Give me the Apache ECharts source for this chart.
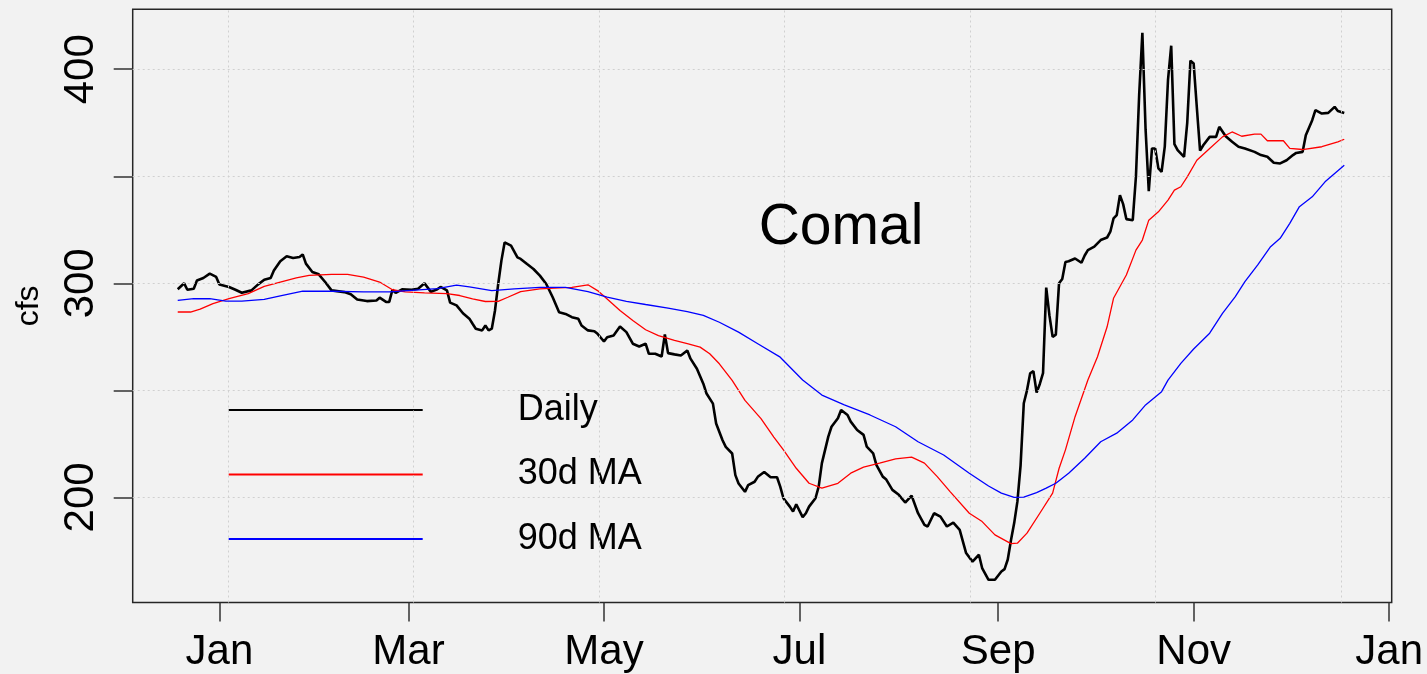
<!DOCTYPE html>
<html><head><meta charset="utf-8">
<script src="https://cdn.jsdelivr.net/npm/echarts@6/dist/echarts.min.js"></script>
<style>html,body{margin:0;padding:0;background:#F2F2F2;} #c{width:1427px;height:674px;}</style>
</head><body><div id="c"></div>
<script>
// Day offsets are counted from baseDate (2018-01-01); negative = December 2017.
const baseDate = '2018-01-01';
const seriesNames = ['Daily', '30d MA', '90d MA'];
const chartTitle = 'Comal';
const yName = 'cfs';

const dailyDay = [-13,-11,-10,-8,-7,-5,-3,-1,0,3,5,7,10,12,14,16,17,19,21,23,25,26,27,29,31,33,35,39,41,43,46,49,50,52,53,54,55,57,60,62,64,66,68,69,71,72,74,76,78,79,80,82,83,84,85,86,87,88,89,91,93,94,96,98,100,102,104,106,108,110,112,113,115,117,118,120,121,123,125,127,129,131,133,134,136,138,139,140,142,144,146,147,149,151,152,154,155,157,158,160,161,162,164,165,167,168,170,172,174,175,176,178,179,180,182,183,184,186,187,188,190,191,193,194,196,197,199,201,202,204,205,207,208,210,212,214,216,218,220,221,223,225,227,229,231,233,235,237,238,240,242,244,245,246,247,248,249,250,251,252,253,254,255,256,257,258,259,260,261,262,263,264,265,267,269,270,271,273,275,277,278,279,280,281,282,283,285,286,287,288,289,290,291,292,293,294,295,296,297,298,299,301,302,303,304,305,306,307,309,311,312,314,316,318,320,323,325,327,329,331,333,335,336,338,339,341,342,344,346,348,349,351];
const dailyCfs = [297.2,300,297,297.5,301.3,302.5,304.5,303,299.4,298.3,297,295.6,296.7,299.4,301.7,302.5,306,310.3,312.6,311.8,312.3,313.5,309.2,305.3,304.2,300.6,296.7,295.9,294.9,292.4,291.7,292,293.3,291.3,291.3,297,295.5,297.2,297,297.5,300,296,297.2,298.3,296.7,291,289.7,286,283.5,281.1,278.8,278,280.3,278,278.8,287.3,299.7,310.6,319.1,317.6,312.1,311.4,309,306.7,303.6,299.7,293.5,286.5,285.7,284.2,283.4,280.3,278,277.6,276.4,272.8,274.8,275.6,279.8,277.2,271.8,270.5,271.8,267.1,267.1,265.8,276.1,267.4,266.8,266.3,268.6,264.8,260.1,253.1,248.5,243.8,234.5,226.7,223.6,220.5,210.4,206.5,202.6,205.7,207.3,209.6,211.9,209.4,209.4,205,199.6,195.7,193.4,196.8,190.8,192.6,195.7,199.6,205,216,228.4,233,237,240.8,238.5,235.4,231.5,229.2,223.7,220.6,215.2,209.7,208.5,203.5,201.2,197.6,200.8,192.6,187.2,186.4,192.6,191,186.4,188.2,184.8,174,170,173.2,167,161.5,161.5,165.4,166.5,171,180,188,198,215,244,250,258,259,249,253,258,298,285,275,276,300,302,310,310.3,311.6,309.6,313,315.5,317.1,320.2,321.4,324.1,330.3,331.9,341.2,337,330,329.5,350,388,417,372,343,363,363,353.7,352.1,364,395,411,365,362.2,359.1,375,404,402.7,382,362,364.5,368.4,368.4,373.1,368.7,366.1,363.8,363,361.4,359.9,359.1,356.3,356,357.5,359.9,360.9,361.4,369.2,376.2,380.9,379.3,379.6,382.4,380.5,379.6];

const ma30Day = [-13,-9,-6,-2,3,9,14,19,24,28,35,40,45,50,54,58,64,71,75,79,83,87,90,94,100,106,110,115,118,121,125,129,133,137,142,146,150,153,156,160,164,169,173,176,180,184,188,193,197,201,206,211,216,220,224,228,234,238,242,247,249,252,256,260,262,264,267,271,274,277,279,283,286,288,290,293,296,298,300,302,305,309,313,316,319,323,325,327,332,334,338,344,349,351];
const ma30Cfs = [286.6,286.6,287.9,290.5,292.8,295.2,298.6,300.6,302.5,303.7,304.2,304.2,302.9,300.6,297,296,295.5,295.2,294.3,292.7,291.5,291.6,293.5,296.1,297.4,297.9,298.1,299.3,296.6,292.7,287.3,282.6,278.3,275.6,273.3,271.8,270.2,267.1,262.4,254.7,245.3,236.8,228.2,222.2,213.6,206.6,204.3,206.6,211.3,214.1,216,218,218.8,216,209.7,202.7,192.6,188.7,182.5,178.4,178.6,183.3,192.6,202,213.5,222.2,237.7,254.8,265.7,279.7,293,303.9,315.5,320.2,329.5,333.4,338.9,343.5,345.1,349.7,357.5,363,368.4,370.7,368.7,369.7,369.7,366.6,366.6,363,362.5,363.8,366.1,367.3];

const ma90Day = [-13,-8,-3,2,7,14,19,26,35,45,53,60,68,74,78,85,92,100,108,115,121,127,133,140,146,151,156,162,168,175,182,188,195,203,211,218,226,234,240,244,248,251,255,258,261,265,270,275,280,285,289,294,296,300,304,309,313,317,320,324,328,331,334,337,341,345,351];
const ma90Cfs = [292,292.8,292.8,291.7,291.7,292.5,294.1,296.3,296.3,296,296,296.7,297.5,299.2,298.3,296.6,297.4,298.1,298.1,296.1,293.5,291.6,290.1,288.4,286.8,285,281.8,277.2,271.8,265.5,254.8,247.8,243.2,238.5,233,226,219.8,211.3,205.3,202,200,200.1,202.2,204.3,206.6,211.3,218.3,226,230,236.2,243.2,249.4,254.8,262.6,269.3,276.7,286,293.8,300.8,308.6,317.1,321,328,335.8,340.4,347.4,355.2];

const tickDates = ['2018-01-01','2018-03-01','2018-05-01','2018-07-01','2018-09-01','2018-11-01','2019-01-01'];
const tickLabels = ['Jan','Mar','May','Jul','Sep','Nov','Jan'];
const yTickValues = [200, 250, 300, 350, 400];
const yLabelValues = [200, 300, 400];
const hGridValues = [200, 250, 300, 350, 400];
// vertical grid lines at multiples of 5,000,000 s (R's pretty() on the time range)
const vGridSeconds = [1515000000, 1520000000, 1525000000, 1530000000, 1535000000, 1540000000, 1545000000];

const DAY = 86400000;
const base = Date.parse(baseDate);
const toPairs = (days, vals) => days.map((d, i) => [base + d * DAY, vals[i]]);
const tickMs = tickDates.map(s => Date.parse(s));
const FONT = '"Liberation Sans", Arial, sans-serif';

const chart = echarts.init(document.getElementById('c'), null, {renderer: 'canvas'});
const option = {
  backgroundColor: '#F2F2F2',
  animation: false,
  grid: {left: 132.7, top: 9.3, width: 1259, height: 593.2, show: true,
         borderColor: '#262626', borderWidth: 1.5, backgroundColor: 'transparent'},
  xAxis: {
    type: 'value', min: base - 27.05 * DAY, max: base + 365.8 * DAY,
    axisLine: {show: false}, splitLine: {show: false},
    axisTick: {show: true, customValues: tickMs, length: 19, lineStyle: {color: '#333', width: 1.5}},
    axisLabel: {customValues: tickMs, fontSize: 42, color: '#000', fontFamily: FONT, margin: 29,
      formatter: v => {
        let bi = 0, bd = Infinity;
        tickMs.forEach((t, i) => { const dd = Math.abs(t - v); if (dd < bd) { bd = dd; bi = i; } });
        return tickLabels[bi];
      }}
  },
  yAxis: {
    type: 'value', min: 150.9, max: 428,
    axisLine: {show: false}, splitLine: {show: false},
    axisTick: {show: true, customValues: yTickValues, length: 19, lineStyle: {color: '#333', width: 1.5}},
    axisLabel: {customValues: yLabelValues, rotate: 90, fontSize: 42, color: '#000', fontFamily: FONT, margin: 30},
    name: yName, nameLocation: 'middle', nameRotate: 90, nameGap: 88,
    nameTextStyle: {fontSize: 32, color: '#000', fontFamily: FONT}
  },
  legend: {
    data: seriesNames, orient: 'vertical', left: 227.7, top: 387, padding: 0,
    itemWidth: 194, itemHeight: 14, itemGap: 18.5,
    itemStyle: {opacity: 0},
    textStyle: {fontSize: 36, lineHeight: 40, color: '#000', fontFamily: FONT, padding: [6, 0, 0, 90]}
  },
  graphic: [{
    type: 'text', x: 841, y: 228, z: 100,
    style: {text: chartTitle, font: '57px "Liberation Sans", Arial, sans-serif', fill: '#000',
            align: 'center', verticalAlign: 'middle', textAlign: 'center', textVerticalAlign: 'middle'}
  }],
  series: [
    {name: 'grid', type: 'line', data: [], z: 1, silent: true,
     markLine: {silent: true, symbol: 'none', label: {show: false},
       lineStyle: {color: '#D0D0D0', type: [2, 3], width: 1},
       data: vGridSeconds.map(s => ({xAxis: s * 1000})).concat(hGridValues.map(v => ({yAxis: v})))}},
    {name: seriesNames[0], type: 'line', data: toPairs(dailyDay, dailyCfs), symbol: 'none', z: 3,
     lineStyle: {color: '#000', width: 2.6}, itemStyle: {color: '#000'}},
    {name: seriesNames[1], type: 'line', data: toPairs(ma30Day, ma30Cfs), symbol: 'none', z: 4,
     lineStyle: {color: '#FF0000', width: 1.3}, itemStyle: {color: '#FF0000'}},
    {name: seriesNames[2], type: 'line', data: toPairs(ma90Day, ma90Cfs), symbol: 'none', z: 5,
     lineStyle: {color: '#0000FF', width: 1.3}, itemStyle: {color: '#0000FF'}}
  ]
};
chart.setOption(option);
</script></body></html>
